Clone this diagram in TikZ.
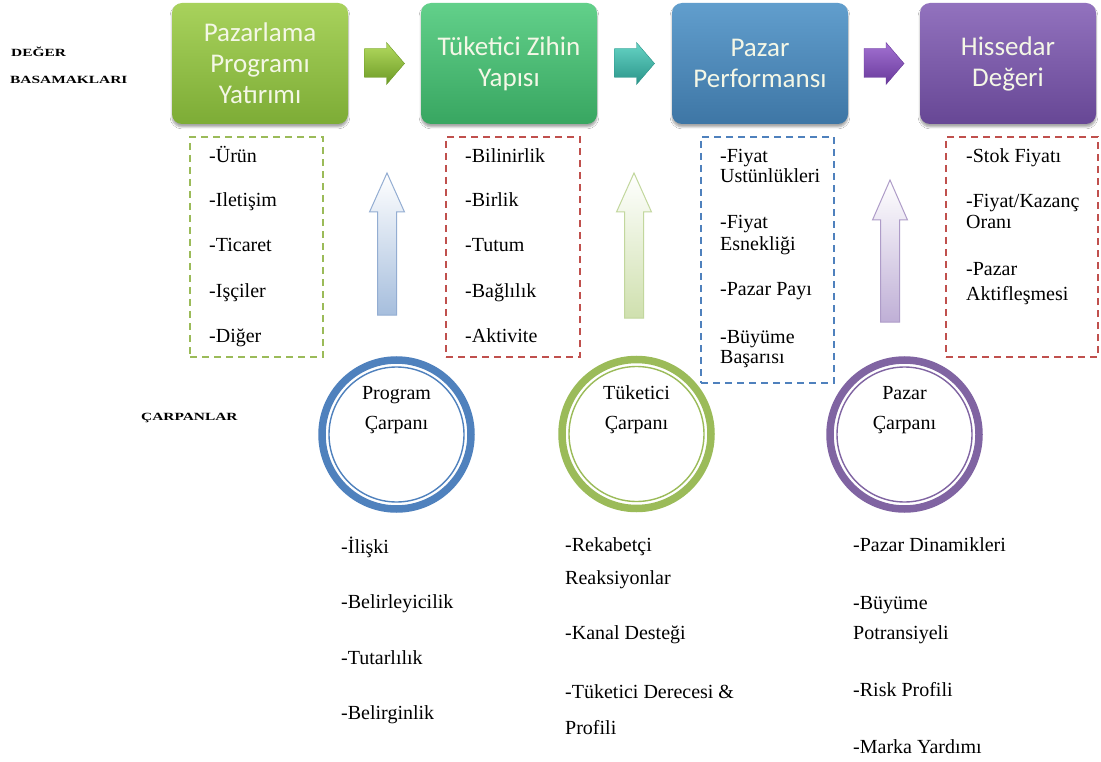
\documentclass[tikz,border=0pt]{standalone}
\usepackage{fontspec}
\usepackage{graphicx}
\setmainfont{Liberation Serif}
\newfontfamily\boxfont{Carlito}
\usetikzlibrary{shadows.blur}

% stage boxes
\definecolor{gAtop}{HTML}{A8D25C}\definecolor{gAbot}{HTML}{7DAC36}
\definecolor{gBtop}{HTML}{62D08A}\definecolor{gBbot}{HTML}{38A661}
\definecolor{gCtop}{HTML}{619ECD}\definecolor{gCbot}{HTML}{3E76A5}
\definecolor{gDtop}{HTML}{9272BE}\definecolor{gDbot}{HTML}{674795}
\definecolor{boxtext}{HTML}{F4F7E6}
% chevrons between stages
\definecolor{chAtop}{HTML}{B4DB60}\definecolor{chAbot}{HTML}{6C9A25}
\definecolor{chBtop}{HTML}{66D4C5}\definecolor{chBbot}{HTML}{2A9489}
\definecolor{chCtop}{HTML}{A372D2}\definecolor{chCbot}{HTML}{68399B}
% dashed frames and rings
\definecolor{lgreen}{HTML}{9BBB59}
\definecolor{lred}{HTML}{C0504D}
\definecolor{lblue}{HTML}{4F81BD}
\definecolor{lpurple}{HTML}{8064A2}
% upward arrows
\definecolor{upBlue}{HTML}{A6BEDD}\definecolor{upBlueO}{HTML}{93ADD2}
\definecolor{upGreen}{HTML}{CFE0AE}\definecolor{upGreenO}{HTML}{C2D79D}
\definecolor{upPurple}{HTML}{BFAFD6}\definecolor{upPurpleO}{HTML}{AE9CC8}

\newcommand\widelabel[1]{\scalebox{1.4}[1]{\bfseries\fontsize{11}{13}\selectfont #1}}

\begin{document}
\begin{tikzpicture}[x=1pt,y=-1pt,
  stage/.style={rounded corners=10pt, minimum width=176pt, minimum height=121pt,
    align=center, inner sep=2pt, text=boxtext,
    font=\boxfont\fontsize{27}{31}\selectfont,
    blur shadow={shadow xshift=0pt, shadow yshift=-3pt, shadow blur steps=6, shadow opacity=35}},
  dbox/.style={rectangle, line width=1.4pt, dash pattern=on 7pt off 5pt, inner sep=0pt},
  item/.style={anchor=west, inner sep=0pt, font=\fontsize{20}{24}\selectfont,
    text height=12pt, text depth=0pt},
  ring/.style={circle, minimum size=149pt, line width=7.5pt, inner sep=0pt},
  ctext/.style={align=center, inner sep=0pt, font=\fontsize{20}{30}\selectfont},
  lab/.style={anchor=west, inner sep=0pt}
]
\useasboundingbox[fill=white] (0,0) rectangle (1101,762);

% row labels
\node[lab] (lv1) at (11,52) {\widelabel{DEĞER}};
\node[lab] (lv2) at (10,80) {\widelabel{BASAMAKLARI}};
\node[lab] (lc) at (141,418) {\widelabel{ÇARPANLAR}};

% value stages
\node[stage, top color=gAtop, bottom color=gAbot] (s1) at (260,63.5) {Pazarlama\\Programı\\Yatırımı};
\node[stage, top color=gBtop, bottom color=gBbot] (s2) at (509,63.5) {Tüketici Zihin\\Yapısı};
\node[stage, top color=gCtop, bottom color=gCbot] (s3) at (760,63.5) {Pazar\\Performansı};
\node[stage, top color=gDtop, bottom color=gDbot] (s4) at (1008,63.5) {Hissedar\\Değeri};

% block chevrons between the stages
\foreach \a/\b/\ct/\cb in {s1/s2/chAtop/chAbot, s2/s3/chBtop/chBbot, s3/s4/chCtop/chCbot} {
  \path (\a.east) -- (\b.west) coordinate[pos=.5] (m-\a);
  \begin{scope}[shift={(m-\a)}]
    \shade[top color=\ct, bottom color=\cb, draw=\cb, line width=.4pt]
      (-20,-15) -- (2,-15) -- (2,-21) -- (20,0) -- (2,21) -- (2,14) -- (-20,14) -- cycle;
  \end{scope}
}

% dashed frames
\node[dbox, draw=lgreen, minimum width=133pt, minimum height=220pt] (fa) at (256.5,247) {};
\node[dbox, draw=lred,   minimum width=134pt, minimum height=220pt] (fb) at (513,247) {};
\node[dbox, draw=lblue,  minimum width=133pt, minimum height=246pt] (fc) at (767.5,260) {};
\node[dbox, draw=lred,   minimum width=152pt, minimum height=220pt] (fd) at (1022,247) {};

% frame contents
\foreach \yy/\txt [count=\i] in {157/-Ürün, 201/-Iletişim, 246/-Ticaret, 292/-Işçiler, 336/-Diğer}
  \node[item] (pa\i) at (209,\yy) {\txt};
\foreach \yy/\txt [count=\i] in {157/-Bilinirlik, 201/-Birlik, 246/-Tutum, 292/-Bağlılık, 336/-Aktivite}
  \node[item] (pb\i) at (465,\yy) {\txt};
\foreach \yy/\txt [count=\i] in {157/-Fiyat, 177/Ustünlükleri, 223/-Fiyat, 245/Esnekliği, 290/-Pazar Payı, 337/-Büyüme, 357/Başarısı}
  \node[item] (pc\i) at (720,\yy) {\txt};
\node[item] (pd1) at (966,157) {-Stok Fiyatı};
\node[item] (pd2) at (966,202) {-Fiyat/Kazanç};
\node[item] (pd3) at (966,223) {Oranı};
\node[item] (pd4) at (966,270) {-Pazar};
\node[item] (pd5) at (966,295) {Aktifleşmesi};

% upward arrows from multipliers to stages
\foreach \cx/\ty/\hy/\by/\fc/\oc in {387/173/212/315/upBlue/upBlueO, 634/173/212/318/upGreen/upGreenO, 890/180/220/322/upPurple/upPurpleO}
  \shade[top color=white, bottom color=\fc, draw=\oc, line width=1pt]
    (\cx-9.5,\by) -- (\cx-9.5,\hy) -- (\cx-17.5,\hy) -- (\cx,\ty) -- (\cx+17.5,\hy)
    -- (\cx+9.5,\hy) -- (\cx+9.5,\by) -- cycle;

% multiplier rings
\node[ring, draw=lblue]   (c1) at (396.5,434.5) {};
\node[ring, draw=lgreen]  (c2) at (636.5,434) {};
\node[ring, draw=lpurple] (c3) at (904.5,434.5) {};
\draw[lblue, line width=1.4pt]   (c1.center) circle[radius=67.5];
\draw[lgreen, line width=1.4pt]  (c2.center) circle[radius=67.5];
\draw[lpurple, line width=1.4pt] (c3.center) circle[radius=67.5];
\node[ctext] (t1) at ([yshift=24.5pt]c1.center) {Program\\Çarpanı};
\node[ctext] (t2) at ([yshift=24.5pt]c2.center) {Tüketici\\Çarpanı};
\node[ctext] (t3) at ([yshift=24.5pt]c3.center) {Pazar\\Çarpanı};

% multiplier factors
\foreach \yy/\txt [count=\i] in {547/-İlişki, 602/-Belirleyicilik, 658/-Tutarlılık, 713/-Belirginlik}
  \node[item] (qa\i) at (341,\yy) {\txt};
\node[item] (qb1) at (565,545) {-Rekabetçi};
\node[item] (qb2) at (565,578) {Reaksiyonlar};
\node[item] (qb3) at (565,633) {-Kanal Desteği};
\node[item] (qb4) at (565,692) {-Tüketici Derecesi \&};
\node[item] (qb5) at (565,728) {Profili};
\foreach \yy/\txt [count=\i] in {545/-Pazar Dinamikleri, 603/-Büyüme, 633/Potransiyeli, 690/-Risk Profili, 747/-Marka Yardımı}
  \node[item] (qc\i) at (853,\yy) {\txt};
\end{tikzpicture}
\end{document}
